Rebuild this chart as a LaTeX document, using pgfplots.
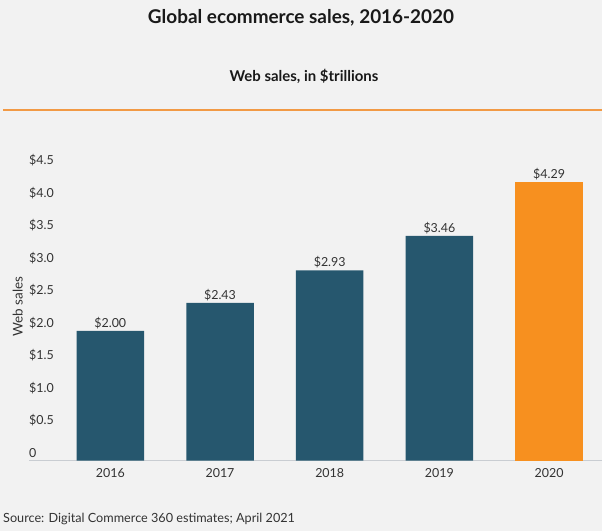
\documentclass[border=0pt]{standalone}
\usepackage{pgfplots}
\pgfplotsset{compat=1.18}
\usepackage{fontspec}
\setmainfont{Lato}
\definecolor{bgc}{HTML}{F2F2F2}
\definecolor{teal}{HTML}{26576E}
\definecolor{orng}{HTML}{F7901F}
\definecolor{rule}{HTML}{F29A45}
\definecolor{txt}{HTML}{333333}
\definecolor{axl}{HTML}{C9CDD2}
\begin{document}
\begin{tikzpicture}[x=1bp,y=1bp]
\fill[bgc] (0,0) rectangle (602,531);
\useasboundingbox (0,0) rectangle (602,531);
\node[font=\fontsize{19}{22}\selectfont\bfseries, text=black!90] at (301,513) {Global ecommerce sales, 2016-2020};
\node[font=\fontsize{15}{18}\selectfont\bfseries, text=black!90] at (304,455) {Web sales, in \$trillions};
\draw[rule, line width=2.8bp] (3,421) -- (602,421);
\node[font=\fontsize{12.7}{15}\selectfont, text=txt, anchor=west, inner sep=0pt] at (3,12) {Source: Digital Commerce 360 estimates; April 2021};
\begin{axis}[
  at={(29bp,70.3bp)}, anchor=south west,
  scale only axis, width=573bp, height=292.3bp,
  xmin=-0.741, xmax=4.482, ymin=0, ymax=4.5,
  axis x line*=bottom, axis y line*=left,
  x axis line style={draw=axl, line width=0.8bp},
  y axis line style={draw=none},
  xtick={0,1,2,3,4}, xticklabels={2016,2017,2018,2019,2020},
  ytick={0,0.5,1,1.5,2,2.5,3,3.5,4,4.5},
  yticklabels={0,\$0.5,\$1.0,\$1.5,\$2.0,\$2.5,\$3.0,\$3.5,\$4.0,\$4.5},
  major tick length=0pt,
  tick style={draw=none},
  /pgf/number format/assume math mode=true,
  xticklabel style={font=\fontsize{12.5}{15}\selectfont, text=txt, anchor=center, inner sep=0pt, yshift=-12.5bp},
  yticklabel style={font=\fontsize{12.5}{15}\selectfont, text=txt, anchor=base west, inner sep=0pt, yshift=3.5bp},
  ylabel={Web sales},
  ylabel style={at={(axis description cs:-0.0105,0.527)}, anchor=south, inner sep=0pt, font=\fontsize{13.5}{16}\selectfont, text=txt},
  ybar, bar shift=0pt, bar width=67.5bp,
  nodes near coords={\$\pgfmathprintnumber[fixed,fixed zerofill,precision=2,assume math mode=true]{\pgfplotspointmeta}},
  every node near coord/.append style={font=\fontsize{12.5}{15}\selectfont, text=txt, anchor=base, inner sep=0pt, yshift=3.5bp},
  clip=false,
]
\addplot[fill=teal, draw=none] coordinates {(0,2.00) (1,2.43) (2,2.93) (3,3.46)};
\addplot[fill=orng, draw=none] coordinates {(4,4.29)};
\end{axis}
\end{tikzpicture}
\end{document}
